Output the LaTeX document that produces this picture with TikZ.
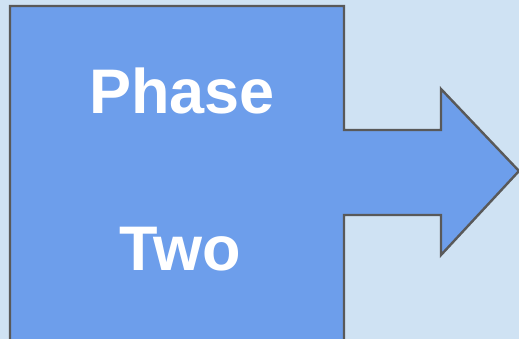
\documentclass[tikz,border=0pt]{standalone}
\usepackage{fontspec}
\setmainfont{Liberation Sans}
\definecolor{backblue}{HTML}{CFE2F3}
\definecolor{phaseblue}{HTML}{6D9EEB}
\definecolor{edgegray}{HTML}{595959}
\tikzset{
    phaselabel/.style={text=white,font=\fontsize{63}{63}\selectfont\bfseries,inner sep=0pt,anchor=base}
}
\begin{document}
\begin{tikzpicture}[x=1pt,y=-1pt]
                            \clip (0,0) rectangle (519,339);
                            \fill[backblue] (0,0) rectangle (519,339);
                            \draw[edgegray,fill=phaseblue,line width=2.4pt,line join=miter]
                                (10,6) -- (344,6) -- (344,130) -- (441,130) -- (441,89) -- (519,171)
                                -- (441,255) -- (441,215) -- (344,215) -- (344,350) -- (10,350) -- cycle;
                            \node[phaselabel] (phase) at (182,114) {Phase};
                            \node[phaselabel] (two) at (180,270) {Two};
                        \end{tikzpicture}
\end{document}
